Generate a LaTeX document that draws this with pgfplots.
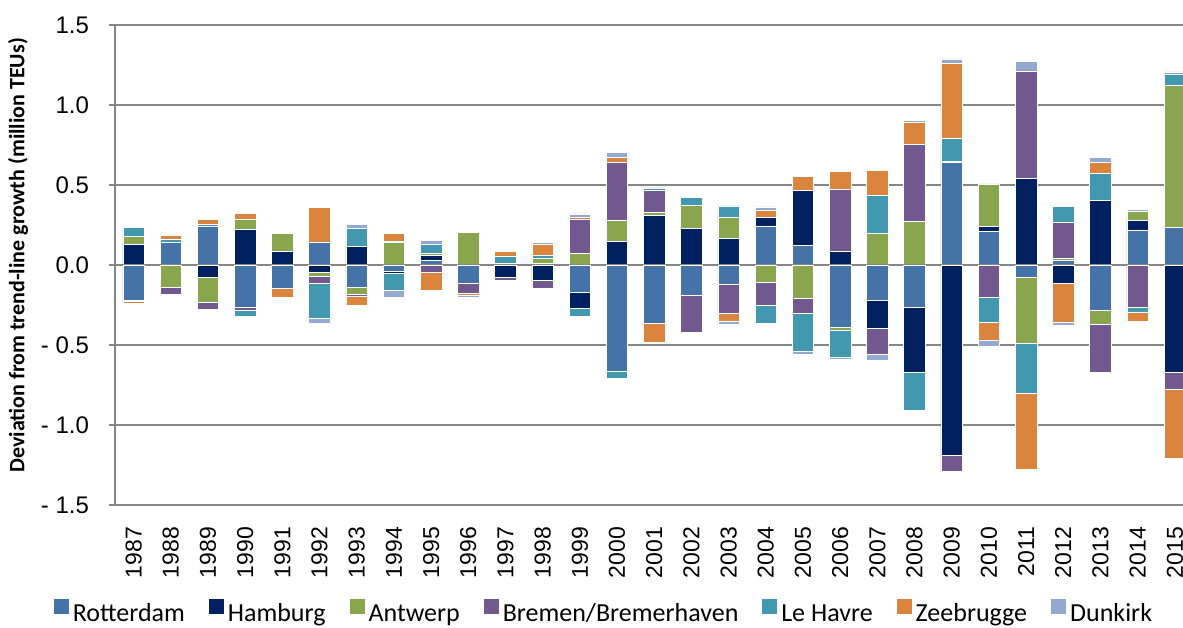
\documentclass[border=0pt]{standalone}
\usepackage{pgfplots}
\pgfplotsset{compat=1.18}
\usepackage{pgfplotstable}
\usepackage{fontspec}
\setmainfont{Carlito}
\newfontfamily\arialf{Liberation Sans}

\definecolor{cR}{RGB}{69,114,167}
\definecolor{cH}{RGB}{0,32,96}
\definecolor{cA}{RGB}{137,165,78}
\definecolor{cB}{RGB}{113,88,143}
\definecolor{cL}{RGB}{65,152,175}
\definecolor{cZ}{RGB}{219,132,61}
\definecolor{cD}{RGB}{147,169,207}
\definecolor{gridc}{RGB}{134,134,134}

% Deviation from trend-line growth (million TEUs), signed
\pgfplotstableread{
year R H A B L Z D
1987 -0.219 0.131 0.05 -0.01 0.054 -0.008 0
1988 0.14 0 -0.1375 -0.044 0.023 0.025 -0.01
1989 0.24 -0.075 -0.16 -0.04 0.015 0.03 -0.01
1990 -0.265 0.223 0.06 -0.017 -0.0375 0.042 -0.01
1991 -0.146 0.0875 0.11 0 0 -0.056 0
1992 0.144 -0.044 -0.029 -0.04 -0.219 0.217 -0.033
1993 -0.142 0.115 -0.044 -0.008 0.1125 -0.06 0.027
1994 -0.042 -0.008 0.142 0.008 -0.108 0.05 -0.044
1995 0.027 0.031 0.017 -0.048 0.052 -0.11 0.029
1996 -0.115 0 0.204 -0.0625 0 -0.01 -0.017
1997 0 -0.077 0.01 -0.017 0.042 0.031 0.01
1998 0.01 -0.094 0.031 -0.052 0.021 0.069 0.0125
1999 -0.171 -0.1 0.073 0.215 -0.052 0.01 0.021
2000 -0.6625 0.15 0.127 0.3625 -0.046 0.033 0.031
2001 -0.365 0.308 0.019 0.1375 0.017 -0.119 0.005
2002 -0.192 0.227 0.148 -0.229 0.048 0 0
2003 -0.121 0.165 0.133 -0.181 0.071 -0.052 -0.017
2004 0.244 0.052 -0.11 -0.142 -0.1125 0.048 0.019
2005 0.125 0.34 -0.206 -0.096 -0.235 0.0875 -0.019
2006 -0.39 0.083 -0.017 0.392 -0.167 0.1125 -0.017
2007 -0.219 -0.177 0.198 -0.16 0.235 0.156 -0.0375
2008 -0.267 -0.404 0.275 0.479 -0.235 0.135 0.0125
2009 0.64 -1.1875 0.01 -0.104 0.142 0.469 0.027
2010 0.2125 0.027 0.267 -0.202 -0.156 -0.11 -0.0375
2011 -0.077 0.54 -0.4125 0.673 -0.3125 -0.473 0.06
2012 0.031 -0.115 0.0125 0.223 0.102 -0.244 -0.017
2013 -0.281 0.406 -0.09 -0.302 0.167 0.067 0.031
2014 0.219 0.058 0.06 -0.265 -0.029 -0.056 0.0125
2015 0.233 -0.669 0.892 -0.106 0.069 -0.433 0.0125
}\ports

\pgfplotsset{commonaxis/.style={
  at={(57.5pt,61pt)}, anchor=south west,
  scale only axis, width=534pt, height=240pt,
  xmin=1986.5, xmax=2015.22, ymin=-1.5, ymax=1.5,
  enlargelimits=false,
  ybar stacked, bar width=10.75pt,
}}

\begin{document}
\begin{tikzpicture}
\useasboundingbox (0,0) rectangle (591.5pt,313.5pt);
\begin{axis}[commonaxis,
  axis lines*=left, axis line style={gridc, line width=0.8pt},
  ymajorgrids, major grid style={gridc, line width=0.8pt},
  ytick={-1.5,-1,-0.5,0,0.5,1,1.5},
  yticklabels={- 1.5,- 1.0,- 0.5,0.0,0.5,1.0,1.5},
  xtick={1987,1988,1989,1990,1991,1992,1993,1994,1995,1996,1997,1998,1999,2000,2001,2002,2003,2004,2005,2006,2007,2008,2009,2010,2011,2012,2013,2014,2015},
  xticklabels={1987,1988,1989,1990,1991,1992,1993,1994,1995,1996,1997,1998,1999,2000,2001,2002,2003,2004,2005,2006,2007,2008,2009,2010,2011,2012,2013,2014,2015},
  tick align=outside, major tick length=3pt,
  ytick style={gridc, line width=0.8pt}, xtick style={draw=none},
  yticklabel style={font=\arialf\fontsize{12}{14}\selectfont, xshift=-6.5pt},
  xticklabel style={font=\arialf\fontsize{11.5}{13}\selectfont, yshift=-4.5pt, rotate=90, anchor=east},
  ylabel={Deviation from trend-line growth (million TEUs)},
  ylabel style={font=\bfseries\fontsize{11}{13}\selectfont, at={(axis description cs:-0.0908,0.52)}, anchor=center},
  legend columns=-1,
  legend style={at={(axis description cs:0.4588,-0.227)}, anchor=center, draw=none, fill=none,
    font=\fontsize{13}{15}\selectfont, inner sep=0pt,
    /tikz/every even column/.append style={column sep=10pt}},
  legend image code/.code={\path[#1,draw=none] (0pt,0pt) rectangle (7.5pt,7.5pt);},
]
\addplot[fill=cR, draw=white, line width=0.3pt] table[x=year, y expr={max(\thisrow{R},0)}] {\ports};
\addlegendentry{Rotterdam}
\addplot[fill=cH, draw=white, line width=0.3pt] table[x=year, y expr={max(\thisrow{H},0)}] {\ports};
\addlegendentry{Hamburg}
\addplot[fill=cA, draw=white, line width=0.3pt] table[x=year, y expr={max(\thisrow{A},0)}] {\ports};
\addlegendentry{Antwerp}
\addplot[fill=cB, draw=white, line width=0.3pt] table[x=year, y expr={max(\thisrow{B},0)}] {\ports};
\addlegendentry{Bremen/Bremerhaven}
\addplot[fill=cL, draw=white, line width=0.3pt] table[x=year, y expr={max(\thisrow{L},0)}] {\ports};
\addlegendentry{Le Havre}
\addplot[fill=cZ, draw=white, line width=0.3pt] table[x=year, y expr={max(\thisrow{Z},0)}] {\ports};
\addlegendentry{Zeebrugge}
\addplot[fill=cD, draw=white, line width=0.3pt] table[x=year, y expr={max(\thisrow{D},0)}] {\ports};
\addlegendentry{Dunkirk}
\end{axis}
\begin{axis}[commonaxis, hide axis]
\addplot[fill=cR, draw=white, line width=0.3pt] table[x=year, y expr={min(\thisrow{R},0)}] {\ports};
\addplot[fill=cH, draw=white, line width=0.3pt] table[x=year, y expr={min(\thisrow{H},0)}] {\ports};
\addplot[fill=cA, draw=white, line width=0.3pt] table[x=year, y expr={min(\thisrow{A},0)}] {\ports};
\addplot[fill=cB, draw=white, line width=0.3pt] table[x=year, y expr={min(\thisrow{B},0)}] {\ports};
\addplot[fill=cL, draw=white, line width=0.3pt] table[x=year, y expr={min(\thisrow{L},0)}] {\ports};
\addplot[fill=cZ, draw=white, line width=0.3pt] table[x=year, y expr={min(\thisrow{Z},0)}] {\ports};
\addplot[fill=cD, draw=white, line width=0.3pt] table[x=year, y expr={min(\thisrow{D},0)}] {\ports};
\draw[gridc, line width=0.8pt] (axis cs:1986.5,0) -- (axis cs:2015.3,0);
\end{axis}
\end{tikzpicture}
\end{document}
